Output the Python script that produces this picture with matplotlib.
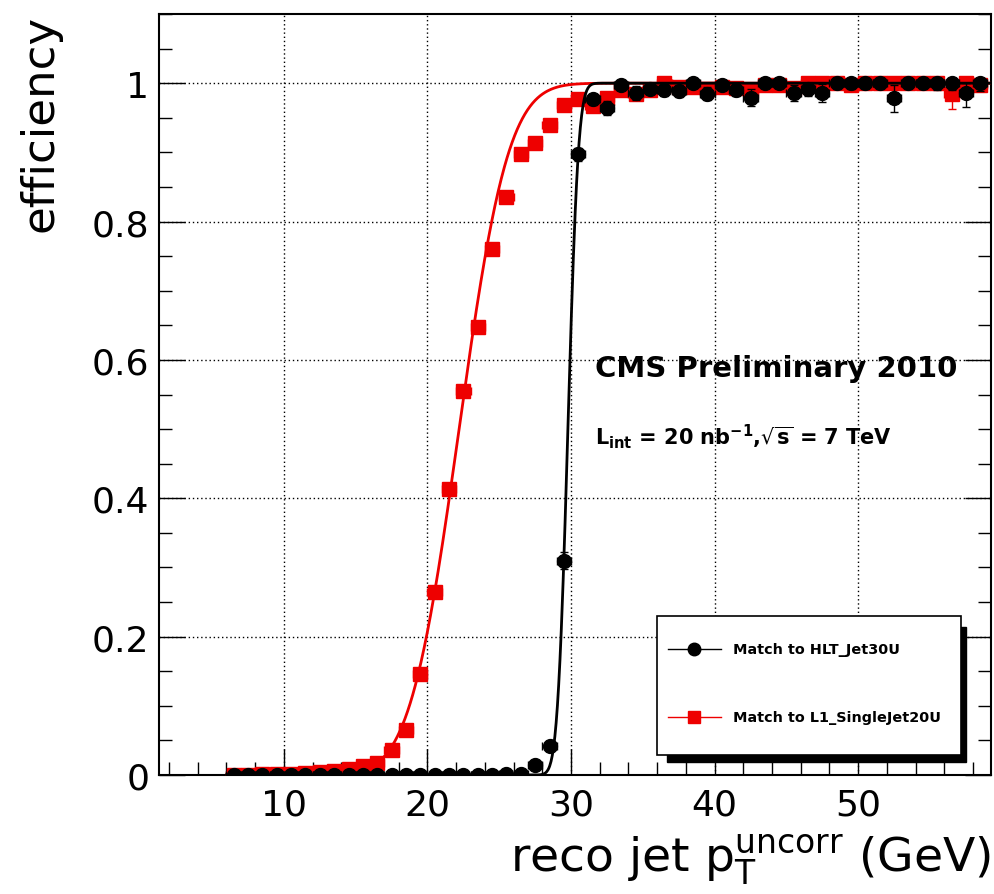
import math
import numpy as np
import matplotlib
matplotlib.use("Agg")
import matplotlib.pyplot as plt
from matplotlib.patches import Rectangle
from matplotlib.lines import Line2D
from matplotlib.ticker import MultipleLocator

plt.rcParams['font.family'] = ['DejaVu Sans']
plt.rcParams['mathtext.fontset'] = 'dejavusans'

# ---------------- data ----------------
pt_bins = [6.5 + i for i in range(53)]  # bin centres, 1 GeV bins

eff_hlt = [0.0, 0.0, 0.0, 0.0, 0.0, 0.0, 0.0, 0.0, 0.0, 0.0,
           0.0, 0.0, 0.0, 0.0, 0.0, 0.0, 0.0, 0.0, 0.0, 0.001,
           0.001, 0.015, 0.042, 0.31, 0.897, 0.977, 0.964, 0.998, 0.986, 0.992,
           0.990, 0.989, 1.0, 0.985, 0.997, 0.990, 0.979, 1.0, 1.0, 0.986,
           0.992, 0.986, 1.0, 1.0, 1.0, 1.0, 0.978, 1.0, 1.0, 1.0,
           1.0, 0.986, 1.0]
err_hlt = [0.001, 0.001, 0.001, 0.001, 0.001, 0.001, 0.001, 0.001, 0.001, 0.001,
           0.001, 0.001, 0.001, 0.001, 0.001, 0.001, 0.001, 0.001, 0.001, 0.001,
           0.002, 0.004, 0.006, 0.012, 0.010, 0.008, 0.010, 0.006, 0.010, 0.008,
           0.008, 0.009, 0.006, 0.010, 0.007, 0.009, 0.012, 0.006, 0.007, 0.012,
           0.010, 0.013, 0.008, 0.008, 0.008, 0.008, 0.020, 0.009, 0.009, 0.010,
           0.010, 0.020, 0.012]

eff_l1 = [0.0, 0.0, 0.001, 0.001, 0.002, 0.003, 0.004, 0.006, 0.009, 0.013,
          0.018, 0.036, 0.065, 0.146, 0.265, 0.413, 0.555, 0.647, 0.760, 0.835,
          0.898, 0.914, 0.939, 0.968, 0.977, 0.967, 0.978, 0.990, 0.985, 0.990,
          1.0, 0.995, 0.995, 0.992, 0.995, 0.993, 0.990, 0.997, 0.997, 0.993,
          1.0, 1.0, 1.0, 0.997, 1.0, 1.0, 1.0, 1.0, 1.0, 1.0,
          0.984, 1.0, 0.998]
err_l1 = [0.001, 0.001, 0.001, 0.001, 0.002, 0.002, 0.002, 0.002, 0.003, 0.003,
          0.004, 0.005, 0.006, 0.007, 0.008, 0.008, 0.008, 0.008, 0.008, 0.008,
          0.008, 0.008, 0.008, 0.007, 0.007, 0.008, 0.007, 0.006, 0.006, 0.006,
          0.006, 0.006, 0.006, 0.006, 0.006, 0.006, 0.006, 0.006, 0.006, 0.006,
          0.006, 0.006, 0.006, 0.006, 0.006, 0.006, 0.006, 0.006, 0.006, 0.006,
          0.022, 0.008, 0.008]

# fitted turn-on curves (erf): midpoint and width
fit_hlt_mu, fit_hlt_sigma = 29.78, 0.57
fit_l1_mu, fit_l1_sigma = 22.2, 2.7
fit_range = (6.0, 59.25)

labels = ["Match to HLT_Jet30U", "Match to L1_SingleJet20U"]
x_ticks = [10, 20, 30, 40, 50]
y_ticks = [0, 0.2, 0.4, 0.6, 0.8, 1.0]
y_ticklabels = ["0", "0.2", "0.4", "0.6", "0.8", "1"]

# ---------------- figure ----------------
W, H = 994, 895
fig = plt.figure(figsize=(W / 100, H / 100), dpi=100)
ax_l, ax_r, ax_b, ax_t = 159, 991, 776, 15
ax = fig.add_axes([ax_l / W, 1 - ax_b / H, (ax_r - ax_l) / W, (ax_b - ax_t) / H])
ax.set_xlim(1.3, 59.25)
ax.set_ylim(0, 1.1)

RED = '#ee0000'

x = np.array(pt_bins)
erf = np.vectorize(math.erf)
xf = np.linspace(fit_range[0], fit_range[1], 1200)
ax.plot(xf, 0.5 * (1 + erf((xf - fit_l1_mu) / (math.sqrt(2) * fit_l1_sigma))),
        color=RED, lw=2, zorder=3)
ax.plot(xf, 0.5 * (1 + erf((xf - fit_hlt_mu) / (math.sqrt(2) * fit_hlt_sigma))),
        color='black', lw=2, zorder=5)

y1 = np.array(eff_l1)
e1 = np.array(err_l1)
ax.errorbar(x, y1, xerr=0.5, yerr=[e1, np.minimum(e1, 1 - y1)], fmt='s',
            color=RED, ms=9.5, elinewidth=1, capsize=3, capthick=1, zorder=4)
y2 = np.array(eff_hlt)
e2 = np.array(err_hlt)
ax.errorbar(x, y2, xerr=0.5, yerr=[e2, np.minimum(e2, 1 - y2)], fmt='o',
            color='black', ms=10, elinewidth=1, capsize=3, capthick=1, zorder=6)

# ticks
ax.set_xticks(x_ticks)
ax.xaxis.set_minor_locator(MultipleLocator(2))
ax.set_yticks(y_ticks)
ax.set_yticklabels(y_ticklabels)
ax.yaxis.set_minor_locator(MultipleLocator(0.05))
ax.tick_params(which='both', direction='in', right=True, top=False, width=1, colors='black')
ax.tick_params(which='major', length=19, labelsize=26)
ax.tick_params(which='minor', length=9.5)
ax.tick_params(axis='x', which='major', pad=9)
ax.tick_params(axis='y', which='major', pad=7)
for s in ax.spines.values():
    s.set_linewidth(1.5)

ax.grid(True, which='major', color='black', linestyle=(0, (1, 2)), lw=1)
ax.set_axisbelow(True)

# axis labels
ax.set_xlabel(r'reco jet p$_{\mathrm{T}}^{\mathrm{uncorr}}$ (GeV)', fontsize=34,
              loc='right', labelpad=8)
ax.set_ylabel('efficiency', fontsize=32.5, loc='top', labelpad=22)

# annotation texts
ax.text(0.524, 0.524, 'CMS Preliminary 2010', transform=ax.transAxes,
        fontsize=21, fontweight='bold', ha='left', va='baseline')
ax.text(0.524, 0.436, r'$\mathbf{L_{int}}$ = 20 nb$^{\mathbf{-1}}$,$\sqrt{\mathbf{s}}$ = 7 TeV',
        transform=ax.transAxes, fontsize=15, fontweight='bold', ha='left', va='baseline')

# legend (ROOT style box with shadow)
ax.add_patch(Rectangle((0.611, 0.0171), 0.970 - 0.611, 0.1945 - 0.0171,
                       transform=ax.transAxes, facecolor='black', edgecolor='black',
                       zorder=7, clip_on=False))
ax.add_patch(Rectangle((0.599, 0.026), 0.964 - 0.599, 0.209 - 0.026,
                       transform=ax.transAxes, facecolor='white', edgecolor='black',
                       lw=1.2, zorder=8, clip_on=False))
rows = [0.1656, 0.0762]
styles = [dict(marker='o', color='black', ms=9), dict(marker='s', color=RED, ms=9)]
for yy, lab, st in zip(rows, labels, styles):
    ax.add_line(Line2D([0.612, 0.675], [yy, yy], transform=ax.transAxes, lw=1,
                       color=st['color'], zorder=9))
    ax.add_line(Line2D([0.6435], [yy], transform=ax.transAxes, marker=st['marker'],
                       ms=st['ms'], color=st['color'], lw=0, zorder=9))
    ax.text(0.690, yy, lab, transform=ax.transAxes, fontsize=10.4, fontweight='bold',
            ha='left', va='center', zorder=9)

fig.savefig('out.png', dpi=100)
